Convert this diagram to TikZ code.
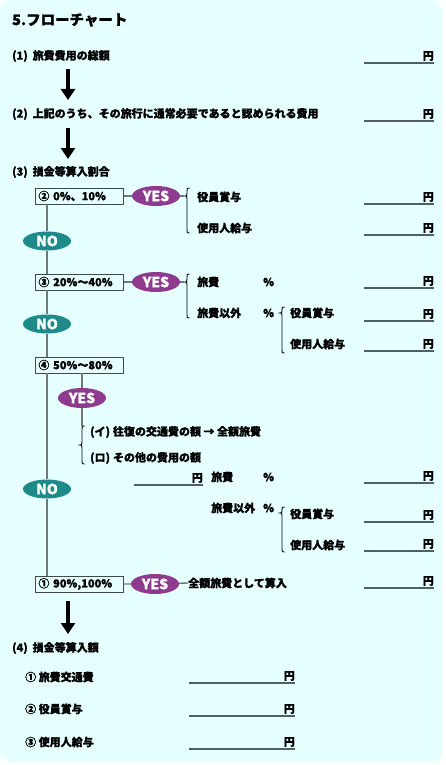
\documentclass[tikz,border=0pt]{standalone}
\usepackage{fontspec}
\newfontfamily\jp{Noto Sans CJK JP Bold}[FakeBold=1.2]
\usetikzlibrary{shapes.geometric,arrows.meta}
\definecolor{bgc}{HTML}{E6FFFF}
\definecolor{yesc}{HTML}{8E3A8E}
\definecolor{noc}{HTML}{1E8A8A}
\definecolor{flowc}{HTML}{707878}
\definecolor{linec}{HTML}{506060}
\definecolor{boxc}{HTML}{404848}
\newcommand\bracepath[4]{%
  \draw[bracestyle] ({#1+2.5},#2) .. controls (#1,#2) .. (#1,{#2+3}) -- (#1,{#3-3})
    .. controls (#1,#3) .. ({#1-3.5},#3) .. controls (#1,#3) .. (#1,{#3+3})
    -- (#1,{#4-3}) .. controls (#1,#4) .. ({#1+2.5},#4);}
\newcommand\yenline[3]{%
  \draw[uline] (#1,{#3+7}) -- (#2,{#3+7});
  \node[yen] (en-#2-#3) at (#2,#3) {円};}
\begin{document}
\begin{tikzpicture}[x=1pt,y=-1pt,
  txt/.style={anchor=west,inner sep=0pt,font=\jp\bfseries\fontsize{11}{13}\selectfont},
  yen/.style={anchor=east,inner sep=0pt,font=\jp\bfseries\fontsize{11}{13}\selectfont},
  uline/.style={draw=linec,line width=1.3pt},
  pbox/.style={draw=boxc,line width=0.9pt,fill=bgc,anchor=west,text width=82pt,
    minimum height=16pt,inner xsep=3pt,inner ysep=0pt,align=left,
    font=\jp\bfseries\fontsize{11}{13}\selectfont},
  yesn/.style={ellipse,fill=yesc,text=white,minimum width=48pt,minimum height=20pt,
    inner sep=0pt,font=\jp\bfseries\fontsize{14}{14}\selectfont},
  non/.style={ellipse,fill=noc,text=white,minimum width=48pt,minimum height=19pt,
    inner sep=0pt,font=\jp\bfseries\fontsize{14}{14}\selectfont},
  flow/.style={draw=flowc,line width=1.4pt},
  bigarrow/.style={line width=4pt,-{Triangle[width=14pt,length=11pt]}},
  bracestyle/.style={draw=black,line width=0.9pt}]
\fill[bgc,rounded corners=9pt] (0,0) rectangle (442,762);
\useasboundingbox (0,0) rectangle (445,765);

\node[txt,font=\jp\bfseries\fontsize{14.5}{16}\selectfont] (title) at (12,20) {5.フローチャート};

% (1)
\node[txt] (t1) at (12,56) {(1)\hspace{5pt}旅費費用の総額};
\yenline{364}{434}{56}
\coordinate (a1s) at (68,69);
\coordinate (a1e) at (68,100);
\draw[bigarrow] (a1s) -- (a1e);

% (2)
\node[txt] (t2) at (12,114) {(2)\hspace{5pt}上記のうち、その旅行に通常必要であると認められる費用};
\yenline{364}{434}{114}
\coordinate (a2s) at (68,128);
\coordinate (a2e) at (68,159);
\draw[bigarrow] (a2s) -- (a2e);

% (3)
\node[txt] (t3) at (12,172) {(3)\hspace{5pt}損金等算入割合};

\node[pbox] (box2) at (35,196) {② 0\%、10\%};
\node[yesn] (yes2) at (156,196) {YES};
\coordinate (b2tip) at (183.5,196);
\bracepath{187}{188}{196}{233}
\node[txt] (r2a) at (197,197) {役員賞与};
\node[txt] (r2b) at (197,228) {使用人給与};
\yenline{364}{434}{197}
\yenline{364}{434}{228}

\node[non] (no1) at (47,241) {NO};

\node[pbox] (box3) at (35,282) {③ 20\%〜40\%};
\node[yesn] (yes3) at (156,282) {YES};
\coordinate (b3tip) at (183.5,282);
\bracepath{187}{274}{282}{318}
\node[txt] (r3a) at (197,282) {旅費};
\node[txt] (p3a) at (263,282) {\%};
\node[txt] (r3b) at (197,313) {旅費以外};
\node[txt] (p3b) at (263,313) {\%};
\bracepath{282}{307}{313}{353}
\node[txt] (r3c) at (290,313) {役員賞与};
\node[txt] (r3d) at (290,344) {使用人給与};
\yenline{364}{434}{281}
\yenline{364}{434}{314}
\yenline{364}{434}{344}

\node[non] (no2) at (47,324) {NO};

\node[pbox] (box4) at (35,365) {④ 50\%〜80\%};
\node[yesn] (yes4) at (82,398) {YES};
\coordinate (b4top) at (82,426);
\bracepath{82}{426}{445}{464}
\node[txt] (r4a) at (90,432) {(イ)\hspace{3pt}往復の交通費の額 → 全額旅費};
\node[txt] (r4b) at (90,458) {(ロ)\hspace{3pt}その他の費用の額};
\yenline{134}{203}{478}
\node[txt] (r4c) at (211,477) {旅費};
\node[txt] (p4a) at (263,477) {\%};
\node[txt] (r4d) at (211,508) {旅費以外};
\node[txt] (p4b) at (263,508) {\%};
\bracepath{282}{507}{513}{552}
\node[txt] (r4e) at (290,514) {役員賞与};
\node[txt] (r4f) at (290,545) {使用人給与};
\yenline{364}{434}{476}
\yenline{364}{434}{515}
\yenline{364}{434}{544}

\node[non] (no3) at (47,489) {NO};

\node[pbox] (box1) at (35,584) {① 90\%,100\%};
\node[yesn] (yes1) at (155,584) {YES};
\node[txt] (zen) at (188,583) {全額旅費として算入};
\yenline{364}{434}{581}

\coordinate (a3s) at (68,601);
\coordinate (a3e) at (68,634);
\draw[bigarrow] (a3s) -- (a3e);

% (4)
\node[txt] (t4) at (12,648) {(4)\hspace{5pt}損金等算入額};
\node[txt] (s1) at (25,677) {① 旅費交通費};
\node[txt] (s2) at (25,709) {② 役員賞与};
\node[txt] (s3) at (25,742) {③ 使用人給与};
\yenline{189}{295}{676}
\yenline{189}{295}{709}
\yenline{189}{295}{742}

% connectors
\draw[flow] (box2.south -| no1) -- (no1) -- (box3.north -| no1);
\draw[flow] (box3.south -| no2) -- (no2) -- (box4.north -| no2);
\draw[flow] (box4.south -| no3) -- (no3) -- (box1.north -| no3);
\draw[flow] (box2) -- (yes2) -- (b2tip);
\draw[flow] (box3) -- (yes3) -- (b3tip);
\draw[flow] (box4.south -| yes4) -- (yes4) -- (b4top);
\draw[flow] (box1) -- (yes1) -- (zen.west);
\end{tikzpicture}
\end{document}
